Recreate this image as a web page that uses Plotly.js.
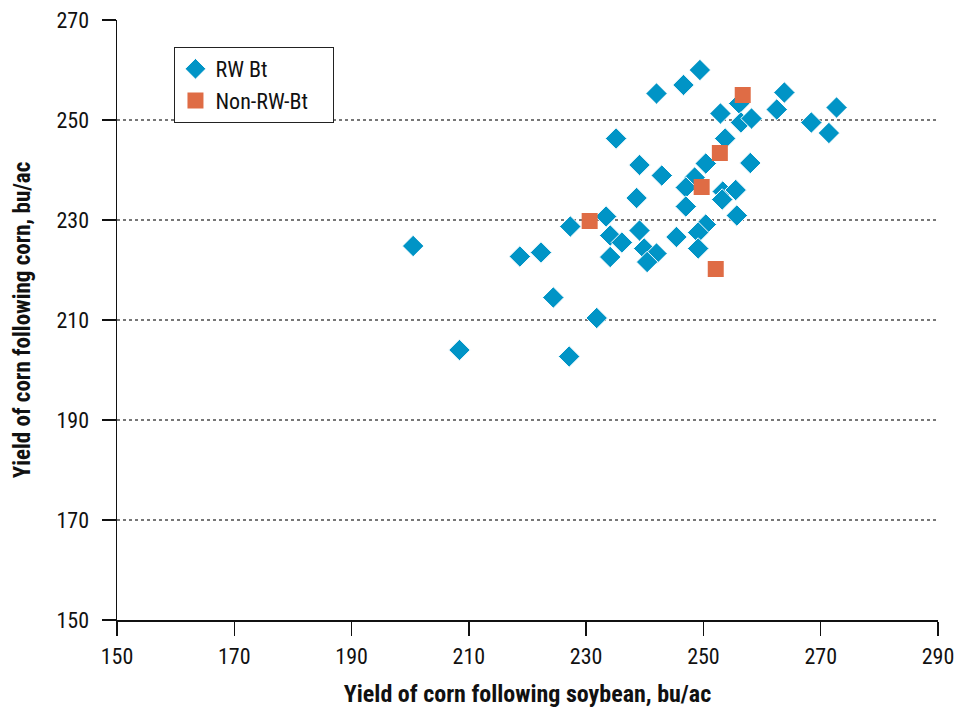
<!DOCTYPE html>
<html>
<head>
<meta charset="utf-8">
<script src="https://cdn.plot.ly/plotly-3.0.1.min.js"></script>
<style>html,body{margin:0;padding:0;background:#fff;}#chart{width:974px;height:708px;}</style>
</head>
<body>
<div id="chart"></div>
<script>
// RW Bt series
const rwBtX = [200.5, 208.4, 218.7, 222.3, 224.4, 227.3, 227.1, 231.8, 233.4, 234.1, 236.1, 234.1, 235.1, 239.1, 238.6, 239.1, 239.9, 242.0, 240.4, 242.0, 242.9, 245.4, 246.6, 249.4, 248.5, 247.0, 247.0, 250.4, 249.1, 249.1, 250.4, 252.9, 253.7, 253.3, 253.2, 255.5, 255.7, 256.1, 256.4, 258.2, 258.0, 262.5, 263.8, 268.4, 271.4, 272.7];
const rwBtY = [224.8, 204.0, 222.7, 223.5, 214.5, 228.7, 202.7, 210.4, 230.7, 226.9, 225.5, 222.6, 246.3, 241.0, 234.4, 227.9, 224.3, 223.3, 221.6, 255.3, 238.9, 226.6, 257.0, 260.0, 238.5, 236.5, 232.7, 229.1, 227.5, 224.3, 241.3, 251.3, 246.3, 235.7, 234.1, 236.0, 230.9, 253.3, 249.5, 250.3, 241.4, 252.1, 255.5, 249.5, 247.4, 252.5];
// Non-RW-Bt series
const nonRwX = [230.6, 249.7, 252.8, 256.7, 252.1];
const nonRwY = [229.8, 236.6, 243.4, 255.0, 220.2];
const seriesNames = ['RW Bt', 'Non-RW-Bt'];
const tickVals = [150, 170, 190, 210, 230, 250, 270, 290];
const yTickVals = [150, 170, 190, 210, 230, 250, 270];

const FONT = '"Roboto Condensed", "Open Sans", Arial, sans-serif';
const PAD = '\u00A0\u00A0\u00A0\u00A0';

const traces = [
  {x: rwBtX, y: rwBtY, type: 'scatter', mode: 'markers', name: seriesNames[0],
   marker: {symbol: 'diamond', size: 16.5, color: '#0094C6', line: {width: 1, color: '#ffffff'}}},
  {x: nonRwX, y: nonRwY, type: 'scatter', mode: 'markers', name: seriesNames[1] + PAD,
   marker: {symbol: 'square', size: 16, color: '#DF6C45', line: {width: 0}}}
];

const layout = {
  width: 974, height: 708,
  margin: {l: 117, r: 36, t: 20, b: 88},
  paper_bgcolor: '#fff', plot_bgcolor: '#fff',
  font: {family: FONT, size: 22, color: '#111'},
  showlegend: true,
  legend: {x: 0.07, y: 0.955, xanchor: 'left', yanchor: 'top', bordercolor: '#222', borderwidth: 1,
           bgcolor: '#fff', font: {family: FONT, size: 22, color: '#111'},
           tracegroupgap: 0},
  xaxis: {range: [150, 290], tickvals: tickVals, ticktext: tickVals.map(String), showgrid: false,
          zeroline: false, showline: true, linecolor: '#111', linewidth: 1.5,
          ticks: 'outside', ticklen: 14, tickwidth: 1.5, tickcolor: '#111', ticklabelstandoff: 2,
          tickfont: {family: FONT, size: 22, color: '#111'},
          title: {text: '<b>Yield of corn following soybean, bu/ac</b>', font: {family: FONT, size: 24, color: '#111'}, standoff: 19}},
  yaxis: {range: [150, 270], tickvals: yTickVals, ticktext: yTickVals.map(String), showgrid: true,
          gridcolor: '#777', griddash: 'dot', gridwidth: 1.2,
          zeroline: false, showline: true, linecolor: '#111', linewidth: 1.5,
          ticks: 'outside', ticklen: 14, tickwidth: 1.5, tickcolor: '#111', ticklabelstandoff: 8,
          tickfont: {family: FONT, size: 22, color: '#111'},
          title: {text: '<b>Yield of corn following corn, bu/ac</b>', font: {family: FONT, size: 23, color: '#111'}, standoff: 19}}
};

Plotly.newPlot('chart', traces, layout, {displayModeBar: false, staticPlot: true});
</script>
</body>
</html>
